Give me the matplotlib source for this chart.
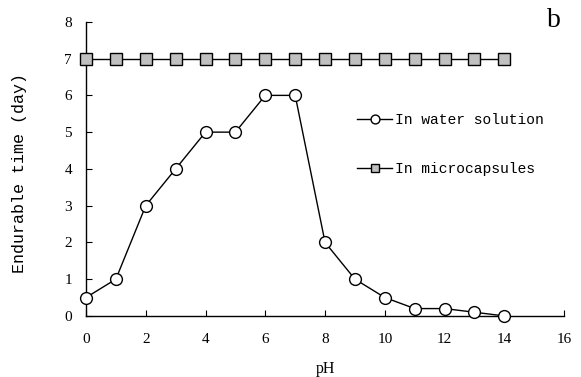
import numpy as np
import matplotlib
matplotlib.use("Agg")
import matplotlib.pyplot as plt

# data
ph = [0, 1, 2, 3, 4, 5, 6, 7, 8, 9, 10, 11, 12, 13, 14]
water = [0.5, 1, 3, 4, 5, 5, 6, 6, 2, 1, 0.5, 0.2, 0.2, 0.1, 0]
micro = [7, 7, 7, 7, 7, 7, 7, 7, 7, 7, 7, 7, 7, 7, 7]

plt.rcParams['font.family'] = ['Liberation Serif', 'DejaVu Serif']
plt.rcParams['font.size'] = 10.5

fig = plt.figure(figsize=(5.81, 3.77), dpi=100)
ax = fig.add_axes([0.148, 0.162, 0.823, 0.780])

ax.plot(ph, micro, color='black', lw=1, marker='s', markersize=8,
        markerfacecolor='#c0c0c0', markeredgecolor='black', markeredgewidth=1,
        label='In microcapsules', zorder=3)
ax.plot(ph, water, color='black', lw=1, marker='o', markersize=8.5,
        markerfacecolor='white', markeredgecolor='black', markeredgewidth=1,
        label='In water solution', zorder=3)

ax.set_xlim(0, 16)
ax.set_ylim(0, 8)
ax.set_xticks(np.arange(0, 17, 2))
ax.set_yticks(np.arange(0, 9, 1))
ax.spines['top'].set_visible(False)
ax.spines['right'].set_visible(False)
ax.tick_params(direction='in', length=4, width=0.8, labelsize=11)
ax.tick_params(axis='x', pad=12)
ax.tick_params(axis='y', pad=10)
for s in ax.spines.values():
    s.set_linewidth(1)
for c in ax.get_children():
    c.set_clip_on(False)

ax.set_xlabel('pH', fontsize=11.5)
ax.xaxis.set_label_coords(0.5, -0.152)
ax.set_ylabel('Endurable time (day)', family='Liberation Mono', fontsize=12)
ax.yaxis.set_label_coords(-0.123, 0.486)

handles, labels = ax.get_legend_handles_labels()
leg = ax.legend(handles[::-1], labels[::-1], loc='center left',
                bbox_to_anchor=(0.54, 0.583), frameon=False, markerscale=0.75,
                handlelength=2.4, handletextpad=0.15, labelspacing=2.4,
                prop={'family': 'Liberation Mono', 'size': 10.5})

fig.text(0.953, 0.945, 'b', fontsize=20, ha='center', va='center')

fig.savefig('out.png', dpi=100)
